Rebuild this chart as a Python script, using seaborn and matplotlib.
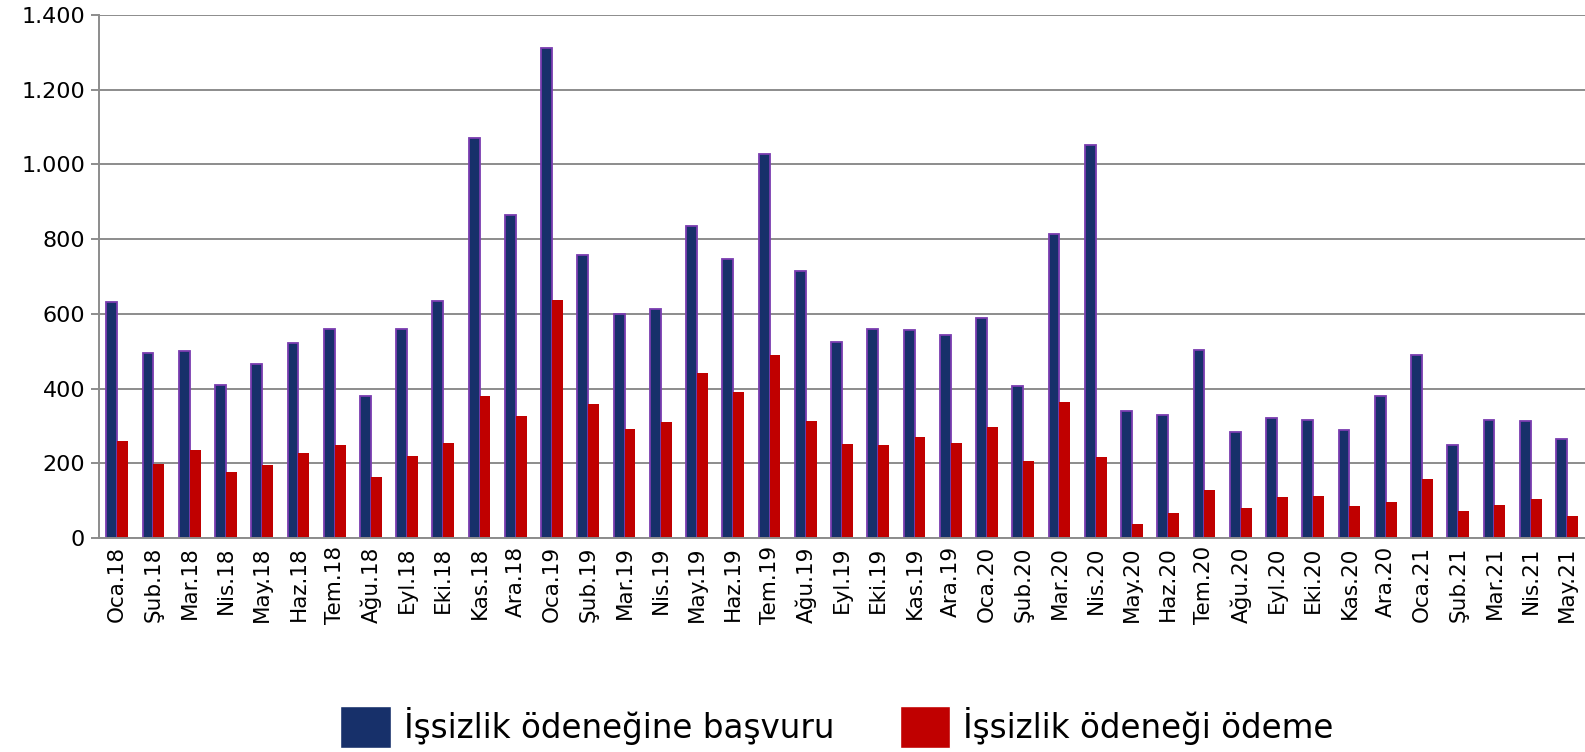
import pandas as pd
import seaborn as sns
import matplotlib.pyplot as plt
from matplotlib.ticker import FuncFormatter, MultipleLocator

sns.set_theme(style="white")
plt.rcParams["font.family"] = ["DejaVu Sans"]
plt.rcParams["text.color"] = "black"
plt.rcParams["xtick.color"] = "black"
plt.rcParams["ytick.color"] = "black"

months = [
    "Oca.18", "Şub.18", "Mar.18", "Nis.18", "May.18", "Haz.18", "Tem.18",
    "Ağu.18", "Eyl.18", "Eki.18", "Kas.18", "Ara.18", "Oca.19", "Şub.19",
    "Mar.19", "Nis.19", "May.19", "Haz.19", "Tem.19", "Ağu.19", "Eyl.19",
    "Eki.19", "Kas.19", "Ara.19", "Oca.20", "Şub.20", "Mar.20", "Nis.20",
    "May.20", "Haz.20", "Tem.20", "Ağu.20", "Eyl.20", "Eki.20", "Kas.20",
    "Ara.20", "Oca.21", "Şub.21", "Mar.21", "Nis.21", "May.21",
]
basvuru = [
    631, 494, 501, 409, 467, 523, 560, 380, 559, 634, 1072, 865, 1312, 758,
    600, 614, 836, 747, 1027, 714, 525, 560, 557, 544, 590, 406, 814, 1052,
    339, 329, 502, 285, 321, 317, 290, 379, 490, 250, 317, 313, 266,
]
odeme = [
    259, 199, 235, 176, 196, 228, 249, 164, 219, 253, 381, 326, 638, 360,
    291, 311, 441, 390, 491, 312, 252, 248, 271, 254, 298, 206, 365, 217,
    37, 66, 129, 79, 109, 113, 86, 95, 159, 73, 89, 105, 58,
]
series_names = ["İşsizlik ödeneğine başvuru", "İşsizlik ödeneği ödeme"]

df = pd.concat([
    pd.DataFrame({"ay": months, "deger": basvuru, "seri": series_names[0]}),
    pd.DataFrame({"ay": months, "deger": odeme, "seri": series_names[1]}),
])

fig = plt.figure(figsize=(15.85, 7.52), dpi=100)
ax = fig.add_axes([0.0625, 0.2846, 0.9375, 0.6954])

sns.barplot(
    data=df, x="ay", y="deger", hue="seri",
    palette=["#17306A", "#C00000"], width=0.6, gap=0,
    saturation=1, ax=ax, legend=True,
)
for p in ax.containers[0]:
    p.set_edgecolor("#7A3DB0")
    p.set_linewidth(1.3)
for p in ax.containers[1]:
    p.set_linewidth(0)

grid_c = "#8C8C8C"
ax.set_ylim(0, 1400)
ax.set_xlim(-0.5, len(months) - 0.5)
ax.yaxis.set_major_locator(MultipleLocator(200))
ax.yaxis.set_major_formatter(FuncFormatter(lambda v, _: f"{int(v):,}".replace(",", ".")))
ax.grid(axis="y", color=grid_c, linewidth=1.4)
ax.set_axisbelow(True)
for s in ["top", "right"]:
    ax.spines[s].set_visible(False)
for s in ["left", "bottom"]:
    ax.spines[s].set_color(grid_c)
    ax.spines[s].set_linewidth(1.4)

ax.set_xlabel("")
ax.set_ylabel("")
ax.set_xticks(range(len(months)))
ax.set_xticklabels(months, rotation=90, fontsize=15.5)
ax.set_xticks([i - 0.5 for i in range(len(months) + 1)], minor=True)
ax.tick_params(axis="x", which="major", length=0, pad=6)
ax.tick_params(axis="x", which="minor", length=7, width=1.4, color=grid_c, direction="out")
ax.tick_params(axis="y", length=6, width=1.4, color=grid_c, labelcolor="black",
               labelsize=16, pad=4, left=True)

handles, labels = ax.get_legend_handles_labels()
ax.legend_.remove()
fig.legend(
    handles, labels, loc="center", bbox_to_anchor=(0.528, 0.033), ncol=2,
    frameon=False, fontsize=23.5, handlelength=1.55, handleheight=1.6,
    handletextpad=0.4, columnspacing=2.0,
)

fig.savefig("out.png", dpi=100)
